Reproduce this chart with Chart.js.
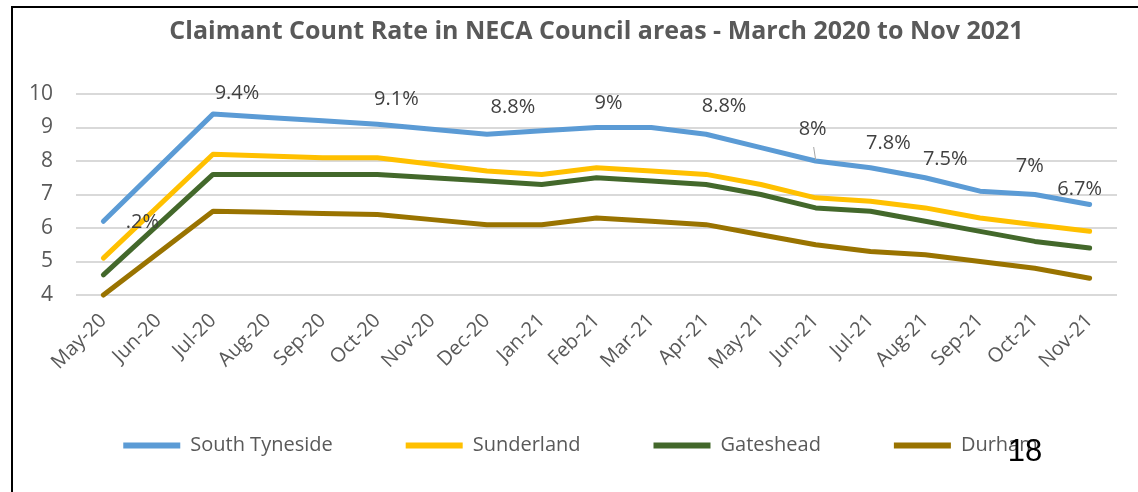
<!DOCTYPE html>
<html>
<head>
<meta charset="utf-8">
<script src="https://cdn.jsdelivr.net/npm/chart.js@4/dist/chart.umd.min.js"></script>
<style>
  html, body { margin: 0; padding: 0; background: #fff; }
  #wrap { position: relative; width: 1138px; height: 492px; overflow: hidden; }
  #frame { position: absolute; left: 11px; top: 6px; width: 1200px; height: 600px;
           border-left: 2px solid #000; border-top: 2px solid #000; pointer-events: none; }
</style>
</head>
<body>
<div id="wrap">
  <canvas id="chart" width="1138" height="492"></canvas>
  <div id="frame"></div>
</div>
<script>
const months = ['May-20', 'Jun-20', 'Jul-20', 'Aug-20', 'Sep-20', 'Oct-20', 'Nov-20', 'Dec-20', 'Jan-21',
  'Feb-21', 'Mar-21', 'Apr-21', 'May-21', 'Jun-21', 'Jul-21', 'Aug-21', 'Sep-21', 'Oct-21', 'Nov-21'];

// Jun-20 has no value in the source, the lines just bridge it
const southTyneside = [6.2, null, 9.4, 9.3, 9.2, 9.1, 8.95, 8.8, 8.9, 9.0, 9.0, 8.8, 8.4, 8.0, 7.8, 7.5, 7.1, 7.0, 6.7];
const sunderland = [5.1, null, 8.2, 8.15, 8.1, 8.1, 7.9, 7.7, 7.6, 7.8, 7.7, 7.6, 7.3, 6.9, 6.8, 6.6, 6.3, 6.1, 5.9];
const gateshead = [4.6, null, 7.6, 7.6, 7.6, 7.6, 7.5, 7.4, 7.3, 7.5, 7.4, 7.3, 7.0, 6.6, 6.5, 6.2, 5.9, 5.6, 5.4];
const durham = [4.0, null, 6.5, 6.47, 6.43, 6.4, 6.25, 6.1, 6.1, 6.3, 6.2, 6.1, 5.8, 5.5, 5.3, 5.2, 5.0, 4.8, 4.5];

// data labels shown on the South Tyneside line (first one is cut off in the original)
const blueLabels = ['.2%', null, '9.4%', null, null, '9.1%', null, '8.8%', null, '9%', null, '8.8%', null,
  '8%', '7.8%', '7.5%', null, '7%', '6.7%'];

const titleText = 'Claimant Count Rate in NECA Council areas - March 2020 to Nov 2021';
const pageNumber = '18';

// where each label sits relative to its point
const labelOffsets = [[39, 1], null, [24, -21], null, null, [19, -25], null, [26, -27], null, [12, -24], null,
  [18, -28], null, [-3, -32], [18, -24], [20, -18], null, [-5, -28], [-10, -15]];

const series = [
  { label: 'South Tyneside', data: southTyneside, color: '#5b9bd5' },
  { label: 'Sunderland', data: sunderland, color: '#ffc000' },
  { label: 'Gateshead', data: gateshead, color: '#43682b' },
  { label: 'Durham', data: durham, color: '#997300' },
];

const labelPlugin = {
  id: 'blueLabels',
  afterLayout(chart) {
    // tick labels hang outside their (narrow) axis boxes, so widen the clip regions
    const xs = chart.scales.x;
    xs.bottom = xs.top + 110;
    chart.scales.y.left = 0;
  },
  afterDatasetsDraw(chart) {
    const ctx = chart.ctx;
    const meta = chart.getDatasetMeta(0);
    ctx.save();
    ctx.font = '20px "Open Sans"';
    ctx.fillStyle = '#404040';
    ctx.textAlign = 'center';
    ctx.textBaseline = 'middle';
    blueLabels.forEach((txt, i) => {
      if (!txt) return;
      const pt = meta.data[i];
      const off = labelOffsets[i];
      ctx.fillText(txt, pt.x + off[0], pt.y + off[1]);
    });
    // leader line for the Jun-21 label
    const p = meta.data[13];
    ctx.strokeStyle = '#a6a6a6';
    ctx.lineWidth = 1;
    ctx.beginPath();
    ctx.moveTo(p.x - 2, p.y - 14);
    ctx.lineTo(p.x, p.y - 1);
    ctx.stroke();
    ctx.restore();
  },
  afterDraw(chart) {
    const ctx = chart.ctx;
    ctx.save();
    ctx.font = '31px "Liberation Sans"';
    ctx.fillStyle = '#000';
    ctx.textAlign = 'center';
    ctx.textBaseline = 'middle';
    ctx.fillText(pageNumber, 1025, 452);
    ctx.restore();
  }
};

new Chart(document.getElementById('chart'), {
  type: 'line',
  data: {
    labels: months,
    datasets: series.map(s => ({
      label: s.label,
      data: s.data,
      borderColor: s.color,
      backgroundColor: s.color,
      borderWidth: 5,
      borderCapStyle: 'round',
      borderJoinStyle: 'round',
      pointRadius: 0,
      tension: 0,
      spanGaps: true,
      clip: 8,
    }))
  },
  options: {
    responsive: false,
    animation: false,
    layout: { padding: { left: 44, right: 21, top: 0, bottom: 26.5 } },
    scales: {
      x: {
        offset: true,
        grid: { display: false },
        border: { display: false },
        ticks: {
          color: '#595959',
          font: { family: 'Open Sans', size: 20 },
          autoSkip: false,
          maxRotation: 45,
          minRotation: 45,
          padding: 6,
        },
        afterFit(scale) { scale.height = 67.5; }
      },
      y: {
        min: 4,
        max: 10,
        grid: { color: '#d9d9d9', lineWidth: 2, drawTicks: false },
        border: { display: false },
        ticks: {
          stepSize: 1,
          color: '#595959',
          font: { family: 'Open Sans', size: 21 },
          padding: 23,
        },
        afterFit(scale) { scale.width = 32; }
      }
    },
    plugins: {
      title: {
        display: true,
        text: titleText,
        fullSize: false,
        color: '#595959',
        font: { family: 'Open Sans', size: 25, weight: 'bold' },
        padding: { top: 17, bottom: 47 }
      },
      legend: {
        position: 'bottom',
        labels: {
          color: '#595959',
          font: { family: 'Open Sans', size: 20 },
          boxWidth: 57,
          boxHeight: 6,
          useBorderRadius: true,
          borderRadius: 3,
          padding: 73,
          generateLabels(chart) {
            return chart.data.datasets.map((ds, i) => ({
              text: ds.label,
              fillStyle: ds.borderColor,
              strokeStyle: ds.borderColor,
              lineWidth: 0,
              fontColor: '#595959',
              datasetIndex: i,
            }));
          }
        }
      },
      tooltip: { enabled: false }
    }
  },
  plugins: [labelPlugin]
});
</script>
</body>
</html>
